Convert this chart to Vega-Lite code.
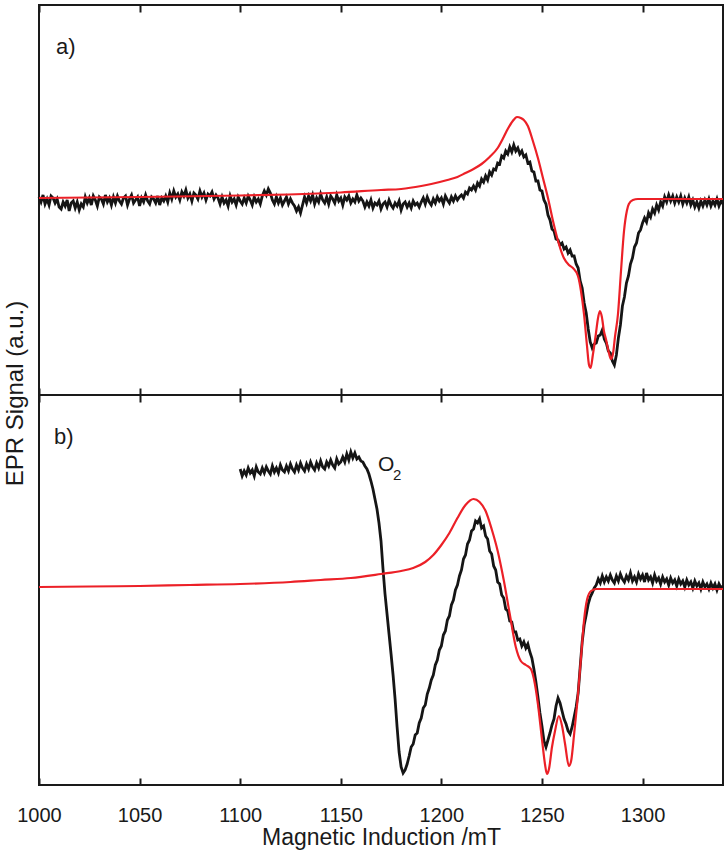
{
  "$schema": "https://vega.github.io/schema/vega-lite/v6.json",
  "padding": {"top": 3, "left": 3, "right": 3, "bottom": 0},
  "spacing": 0,
  "bounds": "flush",
  "title": {"text": "EPR Signal (a.u.)", "orient": "left", "anchor": "middle", "offset": -12, "dx": 33, "fontSize": 24, "fontWeight": "normal", "color": "#1a1a1a", "font": "Liberation Sans"},
  "config": {
    "font": "Liberation Sans",
    "view": {"stroke": "#1a1a1a", "strokeWidth": 2},
    "axis": {"grid": false, "domain": false, "tickColor": "#1a1a1a", "tickWidth": 2, "tickSize": -7, "labelColor": "#1a1a1a", "titleColor": "#1a1a1a", "labelFontSize": 20, "titleFontSize": 23, "titleFontWeight": "normal", "labelFlush": false, "format": "d"}
  },
  "datasets": {
    "a_black": [
      {"B":1000,"S":0.02},{"B":1001,"S":-0.03},{"B":1002,"S":0.04},{"B":1003,"S":-0.05},{"B":1004,"S":0.0},{"B":1005,"S":-0.06},{"B":1006,"S":0.03},{"B":1007,"S":0.01},{"B":1008,"S":-0.04},
      {"B":1009,"S":0.0},{"B":1010,"S":-0.08},{"B":1011,"S":-0.10},{"B":1012,"S":-0.03},{"B":1013,"S":-0.07},{"B":1014,"S":-0.01},{"B":1015,"S":-0.12},{"B":1016,"S":-0.04},{"B":1017,"S":-0.02},{"B":1018,"S":-0.09},{"B":1019,"S":-0.03},{"B":1020,"S":-0.11},{"B":1021,"S":-0.05},{"B":1022,"S":-0.08},
      {"B":1023,"S":0.02},{"B":1024,"S":-0.04},{"B":1025,"S":0.01},{"B":1026,"S":-0.06},{"B":1027,"S":0.03},{"B":1028,"S":-0.01},{"B":1029,"S":-0.07},{"B":1030,"S":0.02},{"B":1031,"S":0.0},{"B":1032,"S":-0.05},
      {"B":1033,"S":0.04},{"B":1034,"S":-0.03},{"B":1035,"S":0.01},{"B":1036,"S":-0.06},{"B":1037,"S":0.02},{"B":1038,"S":-0.04},{"B":1039,"S":0.03},{"B":1040,"S":-0.02},{"B":1041,"S":-0.05},{"B":1042,"S":0.01},
      {"B":1043,"S":0.03},{"B":1044,"S":-0.06},{"B":1045,"S":0.0},{"B":1046,"S":0.04},{"B":1047,"S":-0.04},{"B":1048,"S":-0.01},{"B":1049,"S":0.02},{"B":1050,"S":-0.07},{"B":1051,"S":0.01},{"B":1052,"S":-0.03},
      {"B":1053,"S":0.04},{"B":1054,"S":-0.02},{"B":1055,"S":-0.05},{"B":1056,"S":0.02},{"B":1057,"S":0.0},{"B":1058,"S":-0.04},{"B":1059,"S":0.03},{"B":1060,"S":-0.06},{"B":1061,"S":0.01},{"B":1062,"S":-0.02},{"B":1063,"S":0.03},{"B":1064,"S":-0.03},
      {"B":1065,"S":0.06},{"B":1066,"S":0.0},{"B":1067,"S":0.08},{"B":1068,"S":0.02},{"B":1069,"S":0.05},{"B":1070,"S":-0.01},{"B":1071,"S":0.07},{"B":1072,"S":0.03},{"B":1073,"S":0.09},{"B":1074,"S":0.01},
      {"B":1075,"S":0.05},{"B":1076,"S":-0.02},{"B":1077,"S":0.06},{"B":1078,"S":0.04},{"B":1079,"S":0.0},{"B":1080,"S":0.08},{"B":1081,"S":0.02},{"B":1082,"S":0.06},{"B":1083,"S":-0.01},{"B":1084,"S":0.05},
      {"B":1085,"S":0.03},{"B":1086,"S":0.07},{"B":1087,"S":0.0},{"B":1088,"S":0.04},
      {"B":1089,"S":0.01},{"B":1090,"S":-0.05},{"B":1091,"S":0.02},{"B":1092,"S":-0.04},{"B":1093,"S":-0.01},{"B":1094,"S":-0.07},{"B":1095,"S":0.03},{"B":1096,"S":-0.03},{"B":1097,"S":0.0},{"B":1098,"S":-0.06},
      {"B":1099,"S":0.02},{"B":1100,"S":-0.02},{"B":1101,"S":-0.05},{"B":1102,"S":0.01},{"B":1103,"S":-0.04},{"B":1104,"S":0.03},{"B":1105,"S":-0.01},{"B":1106,"S":-0.06},{"B":1107,"S":0.02},{"B":1108,"S":-0.03},{"B":1109,"S":0.0},{"B":1110,"S":-0.05},
      {"B":1111,"S":0.03},{"B":1112,"S":0.08},{"B":1113,"S":0.04},{"B":1114,"S":0.10},{"B":1115,"S":0.06},
      {"B":1116,"S":-0.01},{"B":1117,"S":-0.05},{"B":1118,"S":0.02},{"B":1119,"S":-0.04},{"B":1120,"S":0.01},{"B":1121,"S":-0.06},{"B":1122,"S":-0.02},{"B":1123,"S":0.02},{"B":1124,"S":-0.05},{"B":1125,"S":0.0},{"B":1126,"S":-0.04},
      {"B":1127,"S":-0.07},{"B":1128,"S":-0.12},{"B":1129,"S":-0.08},{"B":1130,"S":-0.14},{"B":1131,"S":-0.06},
      {"B":1132,"S":0.02},{"B":1133,"S":-0.04},{"B":1134,"S":0.03},{"B":1135,"S":-0.02},{"B":1136,"S":0.04},{"B":1137,"S":-0.05},{"B":1138,"S":0.01},{"B":1139,"S":-0.03},{"B":1140,"S":0.05},{"B":1141,"S":-0.01},
      {"B":1142,"S":-0.04},{"B":1143,"S":0.02},{"B":1144,"S":-0.05},{"B":1145,"S":0.03},{"B":1146,"S":0.0},{"B":1147,"S":-0.04},{"B":1148,"S":0.04},{"B":1149,"S":-0.02},{"B":1150,"S":0.01},{"B":1151,"S":-0.06},
      {"B":1152,"S":0.02},{"B":1153,"S":-0.01},{"B":1154,"S":0.03},{"B":1155,"S":-0.04},{"B":1156,"S":0.0},{"B":1157,"S":-0.03},{"B":1158,"S":0.04},{"B":1159,"S":-0.02},{"B":1160,"S":0.01},
      {"B":1161,"S":-0.02},{"B":1162,"S":-0.08},{"B":1163,"S":-0.03},{"B":1164,"S":-0.07},{"B":1165,"S":-0.01},{"B":1166,"S":-0.09},{"B":1167,"S":-0.04},{"B":1168,"S":-0.06},{"B":1169,"S":-0.02},{"B":1170,"S":-0.10},
      {"B":1171,"S":-0.05},{"B":1172,"S":-0.03},{"B":1173,"S":-0.08},{"B":1174,"S":-0.01},{"B":1175,"S":-0.06},{"B":1176,"S":-0.09},{"B":1177,"S":-0.04},{"B":1178,"S":-0.07},{"B":1179,"S":-0.02},{"B":1180,"S":-0.11},
      {"B":1181,"S":-0.05},{"B":1182,"S":-0.03},{"B":1183,"S":-0.08},{"B":1184,"S":-0.04},{"B":1185,"S":-0.09},{"B":1186,"S":-0.02},{"B":1187,"S":-0.06},{"B":1188,"S":-0.04},{"B":1189,"S":-0.08},{"B":1190,"S":-0.03},
      {"B":1191,"S":0.01},{"B":1192,"S":-0.05},{"B":1193,"S":0.02},{"B":1194,"S":-0.03},{"B":1195,"S":-0.06},{"B":1196,"S":0.0},{"B":1197,"S":-0.04},{"B":1198,"S":0.02},{"B":1199,"S":-0.02},{"B":1200,"S":0.01},
      {"B":1201,"S":-0.05},{"B":1202,"S":0.03},{"B":1203,"S":-0.01},{"B":1204,"S":-0.04},{"B":1205,"S":0.02},{"B":1206,"S":-0.02},{"B":1207,"S":0.03},{"B":1208,"S":-0.01},
      {"B":1209,"S":0.02},{"B":1210,"S":0.04},{"B":1211,"S":0.01},{"B":1212,"S":0.07},{"B":1213,"S":0.05},{"B":1214,"S":0.11},{"B":1215,"S":0.09},
      {"B":1216,"S":0.13},{"B":1217,"S":0.09},{"B":1218,"S":0.16},{"B":1219,"S":0.13},{"B":1220,"S":0.20},{"B":1221,"S":0.17},{"B":1222,"S":0.23},{"B":1223,"S":0.19},{"B":1224,"S":0.27},{"B":1225,"S":0.24},
      {"B":1226,"S":0.30},{"B":1227,"S":0.29},{"B":1228,"S":0.36},{"B":1229,"S":0.35},{"B":1230,"S":0.43},{"B":1231,"S":0.41},{"B":1232,"S":0.48},{"B":1233,"S":0.45},{"B":1234,"S":0.52},{"B":1235,"S":0.47},
      {"B":1236,"S":0.54},{"B":1237,"S":0.48},{"B":1238,"S":0.51},{"B":1239,"S":0.45},{"B":1240,"S":0.48},{"B":1241,"S":0.42},{"B":1242,"S":0.44},{"B":1243,"S":0.36},{"B":1244,"S":0.37},{"B":1245,"S":0.28},
      {"B":1246,"S":0.27},{"B":1247,"S":0.18},{"B":1248,"S":0.18},{"B":1249,"S":0.09},{"B":1250,"S":0.08},{"B":1251,"S":-0.01},{"B":1252,"S":-0.05},{"B":1253,"S":-0.16},{"B":1254,"S":-0.21},{"B":1255,"S":-0.30},
      {"B":1256,"S":-0.32},{"B":1257,"S":-0.40},{"B":1258,"S":-0.41},{"B":1259,"S":-0.46},{"B":1260,"S":-0.44},{"B":1261,"S":-0.50},{"B":1262,"S":-0.48},{"B":1263,"S":-0.54},{"B":1264,"S":-0.51},{"B":1265,"S":-0.57},
      {"B":1266,"S":-0.57},{"B":1267,"S":-0.65},{"B":1268,"S":-0.69},{"B":1269,"S":-0.82},{"B":1270,"S":-0.89},{"B":1271,"S":-1.04},{"B":1272,"S":-1.14},{"B":1273,"S":-1.30},{"B":1274,"S":-1.43},{"B":1275,"S":-1.49},
      {"B":1276,"S":-1.45},{"B":1277,"S":-1.44},{"B":1278,"S":-1.37},{"B":1279,"S":-1.36},{"B":1280,"S":-1.31},{"B":1281,"S":-1.40},{"B":1282,"S":-1.44},{"B":1283,"S":-1.52},{"B":1284,"S":-1.54},{"B":1285,"S":-1.62},
      {"B":1286,"S":-1.66},{"B":1287,"S":-1.56},{"B":1288,"S":-1.39},{"B":1289,"S":-1.26},{"B":1290,"S":-1.07},{"B":1291,"S":-0.98},{"B":1292,"S":-0.84},{"B":1293,"S":-0.77},{"B":1294,"S":-0.65},{"B":1295,"S":-0.59},
      {"B":1296,"S":-0.48},{"B":1297,"S":-0.44},{"B":1298,"S":-0.34},{"B":1299,"S":-0.31},{"B":1300,"S":-0.24},
      {"B":1301,"S":-0.19},{"B":1302,"S":-0.23},{"B":1303,"S":-0.14},{"B":1304,"S":-0.18},{"B":1305,"S":-0.10},{"B":1306,"S":-0.14},{"B":1307,"S":-0.06},{"B":1308,"S":-0.11},{"B":1309,"S":-0.03},{"B":1310,"S":-0.07},
      {"B":1311,"S":0.02},{"B":1312,"S":-0.03},{"B":1313,"S":0.04},{"B":1314,"S":-0.02},{"B":1315,"S":0.03},{"B":1316,"S":-0.04},{"B":1317,"S":0.02},{"B":1318,"S":-0.03},{"B":1319,"S":0.03},{"B":1320,"S":-0.05},
      {"B":1321,"S":0.01},{"B":1322,"S":-0.04},{"B":1323,"S":0.02},{"B":1324,"S":-0.06},{"B":1325,"S":-0.01},{"B":1326,"S":-0.08},{"B":1327,"S":-0.03},{"B":1328,"S":-0.09},{"B":1329,"S":-0.02},{"B":1330,"S":-0.07},
      {"B":1331,"S":-0.01},{"B":1332,"S":-0.06},{"B":1333,"S":0.0},{"B":1334,"S":-0.07},{"B":1335,"S":-0.02},{"B":1336,"S":-0.06},{"B":1337,"S":0.0},{"B":1338,"S":-0.07},{"B":1339,"S":-0.02},{"B":1340,"S":-0.05}
    ],
    "a_red": [
      {"B":1000,"S":0.01},{"B":1050,"S":0.02},{"B":1100,"S":0.035},{"B":1124,"S":0.045},{"B":1150,"S":0.065},{"B":1170,"S":0.09},{"B":1180,"S":0.10},{"B":1190,"S":0.13},{"B":1195,"S":0.15},{"B":1203,"S":0.19},
      {"B":1208,"S":0.22},{"B":1212,"S":0.26},{"B":1216,"S":0.30},{"B":1220,"S":0.35},{"B":1224,"S":0.42},{"B":1228,"S":0.51},{"B":1231,"S":0.62},{"B":1233,"S":0.70},{"B":1235.5,"S":0.78},{"B":1237.6,"S":0.82},
      {"B":1239.5,"S":0.81},{"B":1241,"S":0.79},{"B":1243,"S":0.73},{"B":1245.5,"S":0.58},{"B":1248,"S":0.41},{"B":1250.5,"S":0.21},{"B":1253,"S":0.01},{"B":1255.5,"S":-0.22},{"B":1258,"S":-0.42},{"B":1260.9,"S":-0.59},
      {"B":1263.4,"S":-0.66},{"B":1265.4,"S":-0.69},{"B":1267.9,"S":-0.77},{"B":1269.4,"S":-0.92},{"B":1270.9,"S":-1.15},{"B":1272.4,"S":-1.47},{"B":1273.4,"S":-1.66},{"B":1274.2,"S":-1.69},{"B":1275.3,"S":-1.56},{"B":1276.8,"S":-1.35},
      {"B":1277.8,"S":-1.20},{"B":1278.8,"S":-1.12},{"B":1279.8,"S":-1.18},{"B":1280.8,"S":-1.32},{"B":1281.8,"S":-1.40},{"B":1283.3,"S":-1.54},{"B":1284.3,"S":-1.60},{"B":1285.3,"S":-1.55},{"B":1286.3,"S":-1.38},{"B":1287.8,"S":-1.15},
      {"B":1289.3,"S":-0.72},{"B":1290.8,"S":-0.32},{"B":1292.2,"S":-0.12},{"B":1293.2,"S":-0.05},{"B":1295.2,"S":-0.01},{"B":1297.7,"S":0.0},{"B":1340,"S":0.0}
    ],
    "b_black": [
      {"B":1100,"S":1.20},{"B":1101,"S":1.13},{"B":1102,"S":1.18},{"B":1103,"S":1.14},{"B":1104,"S":1.21},{"B":1105,"S":1.16},{"B":1106,"S":1.19},{"B":1107,"S":1.13},{"B":1108,"S":1.22},{"B":1109,"S":1.17},
      {"B":1110,"S":1.15},{"B":1111,"S":1.21},{"B":1112,"S":1.16},{"B":1113,"S":1.22},{"B":1114,"S":1.18},{"B":1115,"S":1.15},{"B":1116,"S":1.23},{"B":1117,"S":1.17},{"B":1118,"S":1.21},{"B":1119,"S":1.16},
      {"B":1120,"S":1.24},{"B":1121,"S":1.19},{"B":1122,"S":1.17},{"B":1123,"S":1.23},{"B":1124,"S":1.18},{"B":1125,"S":1.25},{"B":1126,"S":1.20},{"B":1127,"S":1.17},{"B":1128,"S":1.24},{"B":1129,"S":1.19},
      {"B":1130,"S":1.26},{"B":1131,"S":1.21},{"B":1132,"S":1.18},{"B":1133,"S":1.25},{"B":1134,"S":1.20},{"B":1135,"S":1.27},{"B":1136,"S":1.22},{"B":1137,"S":1.19},{"B":1138,"S":1.26},{"B":1139,"S":1.21},
      {"B":1140,"S":1.28},{"B":1141,"S":1.22},{"B":1142,"S":1.20},{"B":1143,"S":1.27},{"B":1144,"S":1.23},{"B":1145,"S":1.29},{"B":1146,"S":1.24},{"B":1147,"S":1.21},{"B":1148,"S":1.30},{"B":1149,"S":1.25},
      {"B":1150,"S":1.27},{"B":1151,"S":1.32},{"B":1152,"S":1.27},{"B":1153,"S":1.35},{"B":1154,"S":1.29},{"B":1155,"S":1.37},{"B":1156,"S":1.31},{"B":1157,"S":1.36},{"B":1158,"S":1.30},{"B":1159,"S":1.32},
      {"B":1160,"S":1.28},{"B":1161,"S":1.27},{"B":1162,"S":1.23},{"B":1163,"S":1.20},{"B":1164,"S":1.15},{"B":1165,"S":1.08},{"B":1166,"S":1.00},{"B":1167,"S":0.90},{"B":1168,"S":0.80},{"B":1169,"S":0.66},
      {"B":1170,"S":0.48},{"B":1171,"S":0.20},{"B":1172,"S":-0.05},{"B":1173,"S":-0.25},{"B":1174,"S":-0.45},{"B":1175,"S":-0.65},{"B":1176,"S":-0.86},{"B":1177,"S":-1.10},{"B":1178,"S":-1.38},{"B":1179,"S":-1.63},
      {"B":1180,"S":-1.78},{"B":1181,"S":-1.84},{"B":1182,"S":-1.81},{"B":1183,"S":-1.75},{"B":1184,"S":-1.67},{"B":1185,"S":-1.58},{"B":1186,"S":-1.55},{"B":1187,"S":-1.46},{"B":1188,"S":-1.44},{"B":1189,"S":-1.34},
      {"B":1190,"S":-1.29},{"B":1191,"S":-1.19},{"B":1192,"S":-1.16},{"B":1193,"S":-1.05},{"B":1194,"S":-0.99},{"B":1195,"S":-0.91},{"B":1196,"S":-0.86},{"B":1197,"S":-0.76},{"B":1198,"S":-0.71},{"B":1199,"S":-0.61},
      {"B":1200,"S":-0.57},{"B":1201,"S":-0.46},{"B":1202,"S":-0.42},{"B":1203,"S":-0.31},{"B":1204,"S":-0.27},{"B":1205,"S":-0.16},{"B":1206,"S":-0.11},{"B":1207,"S":-0.01},{"B":1208,"S":0.04},{"B":1209,"S":0.13},
      {"B":1210,"S":0.19},{"B":1211,"S":0.30},{"B":1212,"S":0.34},{"B":1213,"S":0.45},{"B":1214,"S":0.49},{"B":1215,"S":0.58},{"B":1216,"S":0.60},{"B":1217,"S":0.68},{"B":1218,"S":0.66},{"B":1219,"S":0.70},
      {"B":1220,"S":0.61},{"B":1221,"S":0.63},{"B":1222,"S":0.53},{"B":1223,"S":0.50},{"B":1224,"S":0.38},{"B":1225,"S":0.35},{"B":1226,"S":0.23},{"B":1227,"S":0.19},{"B":1228,"S":0.07},{"B":1229,"S":0.05},
      {"B":1230,"S":-0.06},{"B":1231,"S":-0.09},{"B":1232,"S":-0.20},{"B":1233,"S":-0.22},{"B":1234,"S":-0.32},{"B":1235,"S":-0.33},{"B":1236,"S":-0.43},{"B":1237,"S":-0.43},{"B":1238,"S":-0.51},{"B":1239,"S":-0.50},
      {"B":1240,"S":-0.57},{"B":1241,"S":-0.53},{"B":1242,"S":-0.59},{"B":1243,"S":-0.55},{"B":1244,"S":-0.63},{"B":1245,"S":-0.69},{"B":1246,"S":-0.80},{"B":1247,"S":-0.93},{"B":1248,"S":-1.08},{"B":1249,"S":-1.24},
      {"B":1250,"S":-1.37},{"B":1251,"S":-1.52},{"B":1252,"S":-1.58},{"B":1253,"S":-1.51},{"B":1254,"S":-1.44},{"B":1255,"S":-1.36},{"B":1256,"S":-1.30},{"B":1257,"S":-1.17},{"B":1258,"S":-1.09},{"B":1259,"S":-1.14},
      {"B":1260,"S":-1.22},{"B":1261,"S":-1.30},{"B":1262,"S":-1.35},{"B":1263,"S":-1.42},{"B":1264,"S":-1.45},{"B":1265,"S":-1.38},{"B":1266,"S":-1.28},{"B":1267,"S":-1.18},{"B":1268,"S":-1.04},{"B":1269,"S":-0.78},
      {"B":1270,"S":-0.53},{"B":1271,"S":-0.36},{"B":1272,"S":-0.26},{"B":1273,"S":-0.15},{"B":1274,"S":-0.08},{"B":1275,"S":-0.04},{"B":1276,"S":0.01},{"B":1277,"S":0.04},{"B":1278,"S":0.10},{"B":1279,"S":0.06},
      {"B":1280,"S":0.13},{"B":1281,"S":0.07},{"B":1282,"S":0.12},{"B":1283,"S":0.08},{"B":1284,"S":0.14},{"B":1285,"S":0.09},{"B":1286,"S":0.06},{"B":1287,"S":0.13},{"B":1288,"S":0.08},{"B":1289,"S":0.15},
      {"B":1290,"S":0.10},{"B":1291,"S":0.07},{"B":1292,"S":0.13},{"B":1293,"S":0.09},{"B":1294,"S":0.16},{"B":1295,"S":0.08},{"B":1296,"S":0.12},{"B":1297,"S":0.07},{"B":1298,"S":0.15},{"B":1299,"S":0.10},
      {"B":1300,"S":0.14},{"B":1301,"S":0.07},{"B":1302,"S":0.16},{"B":1303,"S":0.09},{"B":1304,"S":0.12},{"B":1305,"S":0.06},{"B":1306,"S":0.14},{"B":1307,"S":0.08},{"B":1308,"S":0.11},{"B":1309,"S":0.05},
      {"B":1310,"S":0.12},{"B":1311,"S":0.07},{"B":1312,"S":0.10},{"B":1313,"S":0.04},{"B":1314,"S":0.11},{"B":1315,"S":0.06},{"B":1316,"S":0.09},{"B":1317,"S":0.03},{"B":1318,"S":0.10},{"B":1319,"S":0.05},
      {"B":1320,"S":0.08},{"B":1321,"S":0.02},{"B":1322,"S":0.09},{"B":1323,"S":0.04},{"B":1324,"S":0.07},{"B":1325,"S":0.01},{"B":1326,"S":0.08},{"B":1327,"S":0.03},{"B":1328,"S":0.06},{"B":1329,"S":0.0},
      {"B":1330,"S":0.07},{"B":1331,"S":0.02},{"B":1332,"S":0.05},{"B":1333,"S":0.0},{"B":1334,"S":0.06},{"B":1335,"S":0.01},{"B":1336,"S":0.05},{"B":1337,"S":-0.01},{"B":1338,"S":0.05},{"B":1339,"S":0.01},{"B":1340,"S":0.03}
    ],
    "b_red": [
      {"B":1000,"S":0.02},{"B":1025,"S":0.025},{"B":1050,"S":0.03},{"B":1075,"S":0.04},{"B":1100,"S":0.05},{"B":1125,"S":0.07},{"B":1140,"S":0.09},{"B":1155,"S":0.11},{"B":1170,"S":0.15},{"B":1180,"S":0.18},
      {"B":1186,"S":0.21},{"B":1192,"S":0.27},{"B":1196,"S":0.34},{"B":1200,"S":0.44},{"B":1204,"S":0.56},{"B":1208,"S":0.71},{"B":1212,"S":0.84},{"B":1216,"S":0.90},{"B":1219,"S":0.87},{"B":1222,"S":0.78},
      {"B":1225,"S":0.60},{"B":1228,"S":0.38},{"B":1231,"S":0.09},{"B":1234,"S":-0.25},{"B":1237,"S":-0.58},{"B":1239.5,"S":-0.72},{"B":1242,"S":-0.76},{"B":1244.5,"S":-0.80},{"B":1246.5,"S":-0.95},{"B":1248,"S":-1.15},
      {"B":1250,"S":-1.50},{"B":1251.5,"S":-1.75},{"B":1252.5,"S":-1.85},{"B":1253.5,"S":-1.80},{"B":1255,"S":-1.58},{"B":1256.5,"S":-1.42},{"B":1258.4,"S":-1.27},{"B":1260,"S":-1.37},{"B":1261.5,"S":-1.55},{"B":1263.4,"S":-1.77},
      {"B":1264.5,"S":-1.72},{"B":1266,"S":-1.45},{"B":1267.5,"S":-1.15},{"B":1269.4,"S":-0.69},{"B":1271,"S":-0.30},{"B":1272.5,"S":-0.10},{"B":1274.4,"S":-0.02},{"B":1277,"S":0.0},{"B":1340,"S":0.0}
    ],
    "a_label": [{"label": "a)", "B": 1008.5, "S": 1.45}],
    "b_label": [{"label": "b)", "B": 1007.5, "S": 1.45}],
    "o2_main": [{"label": "O", "B": 1168.5, "S": 1.18}],
    "o2_sub": [{"label": "2", "B": 1176, "S": 1.09}]
  },
  "vconcat": [
    {
      "width": 684,
      "height": 390,
      "layer": [
        {
          "data": {"name": "a_black"},
          "mark": {"type": "line", "color": "#151515", "strokeWidth": 2.8},
          "encoding": {
            "x": {"field": "B", "type": "quantitative", "scale": {"domain": [1000, 1340], "nice": false, "zero": false},
                  "axis": {"orient": "top", "labels": false, "title": null, "values": [1000, 1050, 1100, 1150, 1200, 1250, 1300]}},
            "y": {"field": "S", "type": "quantitative", "scale": {"domain": [-1.96, 1.94], "nice": false, "zero": false}, "axis": null}
          }
        },
        {
          "data": {"name": "a_red"},
          "mark": {"type": "line", "color": "#ec2027", "strokeWidth": 2.2, "interpolate": "monotone"},
          "encoding": {
            "x": {"field": "B", "type": "quantitative", "axis": {"orient": "bottom", "labels": false, "title": null, "values": [1000, 1050, 1100, 1150, 1200, 1250, 1300]}},
            "y": {"field": "S", "type": "quantitative", "axis": null}
          }
        },
        {
          "data": {"name": "a_label"},
          "mark": {"type": "text", "align": "left", "baseline": "alphabetic", "fontSize": 22, "color": "#1a1a1a"},
          "encoding": {
            "x": {"field": "B", "type": "quantitative", "axis": null},
            "y": {"field": "S", "type": "quantitative", "axis": null},
            "text": {"field": "label"}
          }
        }
      ],
      "resolve": {"axis": {"x": "independent"}}
    },
    {
      "width": 684,
      "height": 390,
      "layer": [
        {
          "data": {"name": "b_black"},
          "mark": {"type": "line", "color": "#151515", "strokeWidth": 2.8},
          "encoding": {
            "x": {"field": "B", "type": "quantitative", "scale": {"domain": [1000, 1340], "nice": false, "zero": false},
                  "axis": {"orient": "top", "labels": false, "title": null, "values": [1000, 1050, 1100, 1150, 1200, 1250, 1300]}},
            "y": {"field": "S", "type": "quantitative", "scale": {"domain": [-1.96, 1.94], "nice": false, "zero": false}, "axis": null}
          }
        },
        {
          "data": {"name": "b_red"},
          "mark": {"type": "line", "color": "#ec2027", "strokeWidth": 2.2, "interpolate": "monotone"},
          "encoding": {
            "x": {"field": "B", "type": "quantitative", "axis": {"orient": "bottom", "title": "Magnetic Induction /mT", "values": [1000, 1050, 1100, 1150, 1200, 1250, 1300], "labelPadding": 27, "titlePadding": 1}},
            "y": {"field": "S", "type": "quantitative", "axis": null}
          }
        },
        {
          "data": {"name": "b_label"},
          "mark": {"type": "text", "align": "left", "baseline": "alphabetic", "fontSize": 22, "color": "#1a1a1a"},
          "encoding": {
            "x": {"field": "B", "type": "quantitative", "axis": null},
            "y": {"field": "S", "type": "quantitative", "axis": null},
            "text": {"field": "label"}
          }
        },
        {
          "data": {"name": "o2_main"},
          "mark": {"type": "text", "align": "left", "baseline": "alphabetic", "fontSize": 21, "color": "#1a1a1a"},
          "encoding": {
            "x": {"field": "B", "type": "quantitative", "axis": null},
            "y": {"field": "S", "type": "quantitative", "axis": null},
            "text": {"field": "label"}
          }
        },
        {
          "data": {"name": "o2_sub"},
          "mark": {"type": "text", "align": "left", "baseline": "alphabetic", "fontSize": 15, "color": "#1a1a1a"},
          "encoding": {
            "x": {"field": "B", "type": "quantitative", "axis": null},
            "y": {"field": "S", "type": "quantitative", "axis": null},
            "text": {"field": "label"}
          }
        }
      ],
      "resolve": {"axis": {"x": "independent"}}
    }
  ]
}
